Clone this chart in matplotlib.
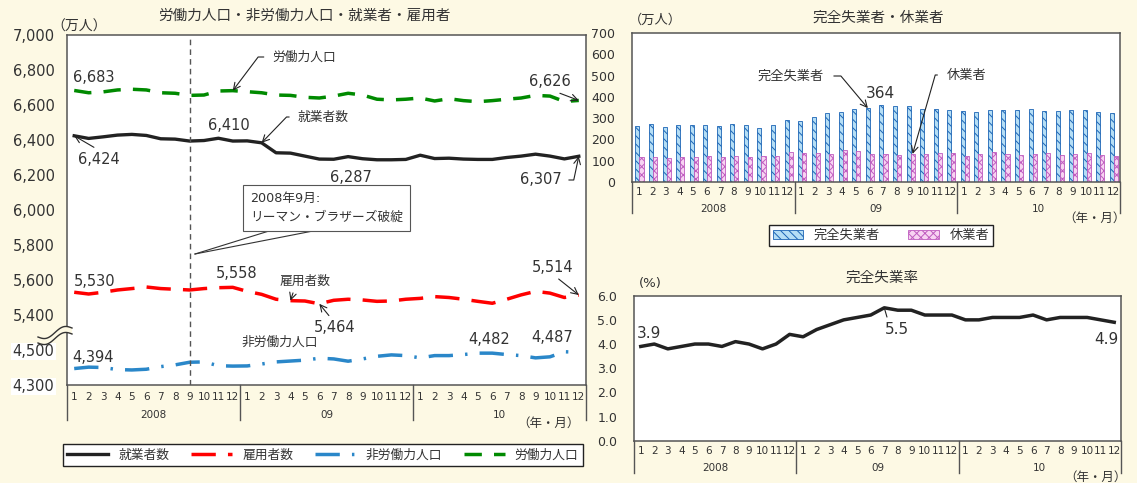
import matplotlib
matplotlib.use("Agg")
import matplotlib.pyplot as plt
from matplotlib.lines import Line2D
import numpy as np

W, H = 1137, 483

# ---- data ----
month_labels = ["1", "2", "3", "4", "5", "6", "7", "8", "9", "10", "11", "12"] * 3
year_labels = ["2008", "09", "10"]

employed = [6424, 6409, 6418, 6428, 6432, 6426, 6407, 6405, 6394, 6397, 6410, 6394,
            6395, 6384, 6327, 6325, 6308, 6291, 6290, 6305, 6293, 6287, 6287, 6289,
            6313, 6294, 6296, 6291, 6289, 6289, 6300, 6308, 6319, 6308, 6292, 6307]
employees = [5530, 5520, 5530, 5543, 5551, 5560, 5551, 5547, 5543, 5551, 5556, 5558,
             5535, 5518, 5490, 5482, 5480, 5464, 5484, 5490, 5486, 5478, 5480, 5490,
             5495, 5505, 5500, 5490, 5478, 5467, 5490, 5515, 5535, 5525, 5500, 5514]
nonlabor = [4394, 4402, 4400, 4388, 4386, 4390, 4405, 4415, 4430, 4432, 4410, 4408,
            4409, 4420, 4432, 4437, 4442, 4453, 4449, 4436, 4449, 4464, 4472, 4468,
            4455, 4468, 4468, 4474, 4482, 4482, 4474, 4468, 4455, 4461, 4490, 4487]
labor = [6683, 6670, 6675, 6686, 6690, 6686, 6670, 6667, 6655, 6657, 6680, 6682,
         6676, 6670, 6657, 6655, 6644, 6640, 6651, 6667, 6657, 6633, 6629, 6633,
         6640, 6623, 6636, 6625, 6619, 6625, 6633, 6640, 6655, 6651, 6620, 6626]

unemployed = [263, 270, 259, 267, 267, 268, 263, 273, 267, 253, 268, 293,
              286, 305, 324, 330, 341, 347, 364, 359, 356, 344, 345, 340,
              333, 330, 336, 336, 338, 342, 333, 334, 339, 336, 331, 322]
absent = [115, 118, 112, 118, 115, 121, 118, 121, 115, 123, 121, 140,
          134, 137, 129, 148, 144, 129, 131, 125, 131, 131, 137, 134,
          121, 129, 139, 131, 125, 129, 134, 126, 129, 134, 126, 123]
rate = [3.9, 4.0, 3.8, 3.9, 4.0, 4.0, 3.9, 4.1, 4.0, 3.8, 4.0, 4.4,
        4.3, 4.6, 4.8, 5.0, 5.1, 5.2, 5.5, 5.4, 5.4, 5.2, 5.2, 5.2,
        5.0, 5.0, 5.1, 5.1, 5.1, 5.2, 5.0, 5.1, 5.1, 5.1, 5.0, 4.9]

# the left axis is broken: 4,300-4,500 is drawn just below 5,400
BREAK_SHIFT = 700
left_ticks = [5000, 5200, 5400, 5600, 5800, 6000, 6200, 6400, 6600, 6800, 7000]
left_tick_labels = ["4,300", "4,500", "5,400", "5,600", "5,800", "6,000",
                    "6,200", "6,400", "6,600", "6,800", "7,000"]

plt.rcParams['font.family'] = ['DejaVu Sans', 'Noto Sans CJK JP']
plt.rcParams['text.color'] = '#333333'
plt.rcParams['xtick.color'] = '#333333'
plt.rcParams['ytick.color'] = '#333333'
plt.rcParams['hatch.linewidth'] = 0.7

TXT = '#333333'
SPINE = '#555555'
fig = plt.figure(figsize=(W / 100, H / 100), dpi=100, facecolor='#fdf9e4')

ax1 = fig.add_axes([67 / W, 1 - 385 / H, 519 / W, 350 / H])
ax2 = fig.add_axes([632 / W, 1 - 181.7 / H, 488 / W, 148.4 / H])
ax3 = fig.add_axes([634 / W, 1 - 440.7 / H, 487 / W, 145 / H])

x = np.arange(36)


def month_axis(ax, year_y, ext, pad):
    ax.set_xlim(-0.5, 35.5)
    ax.set_xticks(x, month_labels, fontsize=7.5)
    ax.tick_params(axis='x', length=0, pad=pad)
    ax.tick_params(axis='y', length=0)
    tr = ax.get_xaxis_transform()
    for k, yl in enumerate(year_labels):
        ax.text(5.5 + 12 * k, year_y, yl, transform=tr, ha='center', va='center',
                fontsize=7.5, color=TXT)
    for xb in (-0.5, 11.5, 23.5, 35.5):
        ax.plot([xb, xb], [0, -ext], transform=tr, clip_on=False, color=SPINE, lw=1)
    for s in ax.spines.values():
        s.set_color(SPINE)
        s.set_linewidth(1.1)


def fig_text(s, px, py, size=10.5, **kw):
    fig.text(px / W, 1 - py / H, s, ha=kw.pop('ha', 'center'), va=kw.pop('va', 'center'),
             fontsize=size, color=TXT, **kw)


def pointer(ax, s, xy, pxy, relpos, size=10.5, style='->', conn='arc3', shrinkA=2):
    ax.annotate(s, xy=xy, xytext=(pxy[0], H - pxy[1]), textcoords='figure pixels',
                ha='center', va='center', fontsize=size, color=TXT,
                arrowprops=dict(arrowstyle=style, color='#222222', lw=0.8, relpos=relpos,
                                shrinkA=shrinkA, shrinkB=0, mutation_scale=12,
                                connectionstyle=conn))


# ---------------- left: labour force etc. ----------------
ax1.plot(x, employed, color='#222222', lw=2.4, label='就業者数')
ax1.plot(x, employees, color='#ff0000', lw=2.5, dashes=(7, 3.5), label='雇用者数')
ax1.plot(x, np.array(nonlabor) + BREAK_SHIFT, color='#2a87c9', lw=2.5,
         dashes=(7, 3.5, 0.7, 3.5), label='非労働力人口')
ax1.plot(x, labor, color='#008a00', lw=2.5, dashes=(5, 3.5), label='労働力人口')
ax1.axvline(8, color='#555555', lw=1, dashes=(4, 3))
ax1.set_ylim(5000, 7000)
ax1.set_yticks(left_ticks, left_tick_labels, fontsize=10.5)
ax1.tick_params(axis='y', pad=9)
for t in ax1.get_yticklabels()[:2]:
    t.set_bbox(dict(facecolor='white', edgecolor='none', pad=1))
month_axis(ax1, -0.086, 0.1, 5)

fig_text('労働力人口・非労働力人口・就業者・雇用者', 305, 15, 10.5)
fig_text('（万人）', 79, 27, 10)
fig_text('（年・月）', 548, 423, 9)

fig_text('6,683', 94, 78)
fig_text('6,410', 229, 125)
fig_text('6,287', 351, 177)
fig_text('5,530', 95, 281)
fig_text('5,558', 237, 274)
fig_text('非労働力人口', 280, 342, 9.2)
fig_text('4,394', 93, 358)
fig_text('4,482', 489, 339)
fig_text('4,487', 552, 337)

pointer(ax1, '6,424', (0, employed[0]), (99, 159), (0.55, 1))
pointer(ax1, '労働力人口', (11, labor[11]), (304, 57), (0, 0.5), size=9.2,
        conn='angle,angleA=0,angleB=53,rad=0', shrinkA=4)
pointer(ax1, '就業者数', (13, employed[13]), (323, 117), (0, 0.5), size=9.2,
        conn='angle,angleA=0,angleB=46,rad=0', shrinkA=4)
pointer(ax1, '6,307', (35, employed[35]), (541, 180), (1, 0.5),
        conn='angle,angleA=0,angleB=78,rad=0', shrinkA=3)
pointer(ax1, '6,626', (35, labor[35]), (550, 82), (0.5, 0))
pointer(ax1, '雇用者数', (15, employees[15]), (305, 281), (0.3, 0), size=9.2)
pointer(ax1, '5,464', (17, employees[17]), (335, 328), (0.45, 1))
pointer(ax1, '5,514', (35, employees[35]), (553, 267), (0.5, 0))

fig.text(250 / W, 1 - 208 / H, '2008年9月:\nリーマン・ブラザーズ破綻', ha='left', va='center',
         fontsize=9.2, color=TXT, linespacing=1.55,
         bbox=dict(boxstyle='square,pad=0.55', facecolor='white', edgecolor='#555555', lw=0.8))
for ex in (269, 313):
    fig.add_artist(Line2D([195 / W, ex / W], [1 - 254 / H, 1 - 231 / H],
                          transform=fig.transFigure, color='#333333', lw=0.8))

# axis break mark
t = np.linspace(0, 1, 40)
wx = (38 + 34 * t) / W
w1 = 1 - (337 - 9 * t + 3.5 * np.sin(2 * np.pi * t)) / H
w2 = w1 - 6 / H
fig.add_artist(plt.Polygon(np.column_stack([np.r_[wx, wx[::-1]], np.r_[w1, w2[::-1]]]),
                           closed=True, transform=fig.transFigure,
                           facecolor='#fdf9e4', edgecolor='none', zorder=5))
for wy in (w1, w2):
    fig.add_artist(Line2D(wx, wy, transform=fig.transFigure, color='#333333', lw=1, zorder=6))

h1, l1 = ax1.get_legend_handles_labels()
leg1 = fig.legend(h1, l1, loc='lower left', ncol=4, mode='expand',
                  bbox_to_anchor=(63 / W, 1 - 466 / H, 520 / W, 23 / H),
                  fontsize=9.2, handlelength=3.2, fancybox=False, edgecolor='#222222',
                  framealpha=1, borderaxespad=0, borderpad=0.35)
leg1.get_frame().set_linewidth(1)

# ---------------- right top: unemployed / absent ----------------
ax2.bar(x - 0.1, unemployed, width=0.3, facecolor='#b5def5', edgecolor='#1b64b5',
        hatch='\\\\\\\\', lw=0.6, label='完全失業者')
ax2.bar(x + 0.2, absent, width=0.3, facecolor='#f8d3f2', edgecolor='#bf5cbf',
        hatch='xxxx', lw=0.6, label='休業者')
ax2.set_ylim(0, 700)
ax2.set_yticks(range(0, 701, 100))
ax2.tick_params(axis='y', labelsize=9, pad=12)
month_axis(ax2, -0.184, 0.209, 4)

fig_text('完全失業者・休業者', 878, 17, 10.5)
fig_text('（万人）', 655, 20, 9.5)
fig_text('（年・月）', 1094, 218, 9)
fig_text('364', 880, 93, 11)
pointer(ax2, '完全失業者', (17 - 0.1, unemployed[17]), (791, 76), (1, 0.5), size=9.5,
        conn='angle,angleA=0,angleB=130,rad=0', shrinkA=5)
pointer(ax2, '休業者', (20 + 0.2, absent[20]), (967, 75), (0, 0.5), size=9.5,
        conn='angle,angleA=0,angleB=74,rad=0', shrinkA=5)

h2, l2 = ax2.get_legend_handles_labels()
leg2 = fig.legend(h2, l2, loc='lower left', ncol=2, mode='expand',
                  bbox_to_anchor=(769 / W, 1 - 246 / H, 224 / W, 22 / H),
                  fontsize=9.5, handlelength=2.3, handleheight=0.6, fancybox=False,
                  edgecolor='#222222', framealpha=1, borderaxespad=0, borderpad=0.3)
leg2.get_frame().set_linewidth(1)

# ---------------- right bottom: unemployment rate ----------------
ax3.plot(x, rate, color='#222222', lw=2.5)
ax3.set_ylim(0, 6)
ax3.set_yticks(np.arange(0, 6.1, 1.0), [f'{v:.1f}' for v in np.arange(0, 6.1, 1.0)])
ax3.tick_params(axis='y', labelsize=9, pad=12)
month_axis(ax3, -0.188, 0.22, 4)

fig_text('完全失業率', 882, 277, 10.5)
fig_text('(%)', 650, 283, 9.5)
fig_text('（年・月）', 1095, 477, 9)
fig_text('3.9', 649, 333, 11)
fig_text('4.9', 1106, 340, 11)
pointer(ax3, '5.5', (18, rate[18]), (897, 330), (0.15, 1), size=11, style='-')

fig.savefig('out.png', dpi=100, facecolor=fig.get_facecolor())
